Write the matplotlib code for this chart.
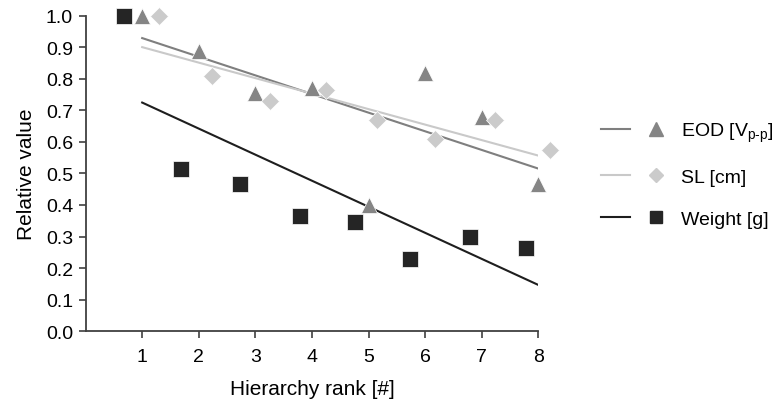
import numpy as np
import matplotlib.pyplot as plt
from matplotlib.lines import Line2D
from matplotlib.legend_handler import HandlerTuple

plt.rcParams['font.family'] = ['Liberation Sans', 'DejaVu Sans']
plt.rcParams['mathtext.fontset'] = 'custom'
plt.rcParams['mathtext.rm'] = 'Liberation Sans'

# hierarchy ranks and plotted positions (points are shifted sideways per series)
rank = np.arange(1, 9)
x_weight = [0.68, 1.69, 2.73, 3.79, 4.76, 5.73, 6.8, 7.79]
x_eod = [1, 2, 3, 4, 5, 6, 7, 8]
x_sl = [1.3, 2.24, 3.26, 4.25, 5.15, 6.18, 7.24, 8.21]

eod = [1.0, 0.89, 0.755, 0.77, 0.40, 0.82, 0.68, 0.465]
sl = [1.0, 0.81, 0.73, 0.765, 0.67, 0.61, 0.67, 0.575]
weight = [1.0, 0.515, 0.465, 0.365, 0.345, 0.23, 0.30, 0.265]

labels = [r'EOD [V$_{\text{p-p}}$]', 'SL [cm]', 'Weight [g]']
line_cols = ['#7f7f7f', '#c9c9c9', '#1e1e1e']
mark_cols = ['#858585', '#cbcbcb', '#252525']

fig = plt.figure(figsize=(7.78, 4.02), dpi=100)
ax = fig.add_axes([0.11, 0.174, 0.582, 0.784])

handles = []
for xs, ys, lc, mc, mk, ms in [(x_eod, eod, line_cols[0], mark_cols[0], '^', 12),
                               (x_sl, sl, line_cols[1], mark_cols[1], 'D', 9.5),
                               (x_weight, weight, line_cols[2], mark_cols[2], 's', 11.5)]:
    k, b = np.polyfit(rank, ys, 1)
    ax.plot(rank[[0, -1]], k * rank[[0, -1]] + b, color=lc, lw=1.5, zorder=2)
    ax.plot(xs, ys, ls='none', marker=mk, ms=ms, color=mc, mec='white', mew=0.5,
            clip_on=False, zorder=3)
    h_line = Line2D([], [], color=lc, lw=1.5)
    h_mark = Line2D([], [], ls='none', marker=mk, ms=ms * 0.8, color=mc)
    handles.append((h_line, h_mark))

ax.set_xlim(0, 8)
ax.set_ylim(0, 1.0)
ax.set_xticks(range(1, 9))
ax.set_yticks(np.arange(0, 1.01, 0.1))
ax.set_yticklabels([f'{v:.1f}' for v in np.arange(0, 1.01, 0.1)])
ax.tick_params(labelsize=14, length=5, width=1.2, color='#404040', pad=4)
ax.tick_params(axis='x', pad=7)
for s in ['top', 'right']:
    ax.spines[s].set_visible(False)
for s in ['left', 'bottom']:
    ax.spines[s].set_color('#404040')
    ax.spines[s].set_linewidth(1.3)

ax.set_xlabel('Hierarchy rank [#]', fontsize=15, labelpad=10)
ax.set_ylabel('Relative value', fontsize=15, labelpad=7)

fig.legend(handles, labels, handler_map={tuple: HandlerTuple(ndivide=None, pad=0.6)},
           loc='center left', bbox_to_anchor=(0.75, 0.565), frameon=False,
           fontsize=14, handlelength=3.6, labelspacing=1.25, handletextpad=0.5)

fig.savefig('out.png', dpi=100)
